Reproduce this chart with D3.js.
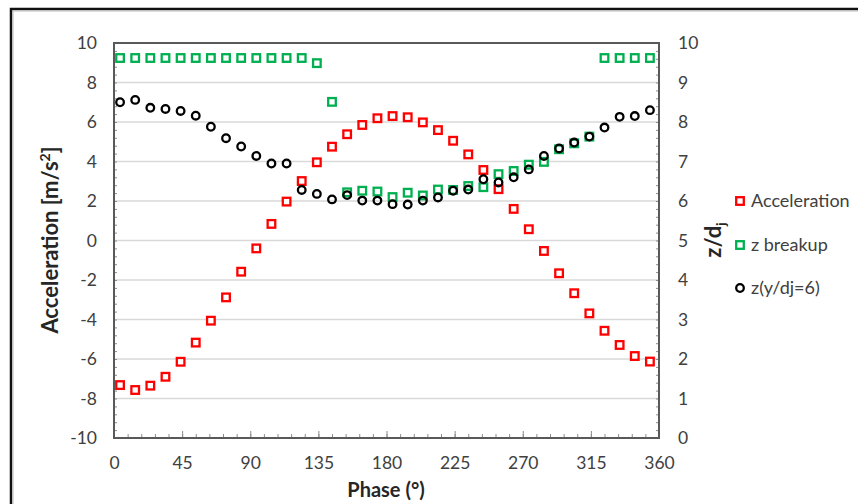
<!DOCTYPE html>
<html><head><meta charset="utf-8">
<script src="https://cdn.jsdelivr.net/npm/d3@7"></script>
<style>body{margin:0;background:#fff}svg{display:block}text{font-family:Lato,"Open Sans",sans-serif}</style>
</head><body>
<svg id="c" width="858" height="504"></svg>
<script>
const phases = d3.range(36).map(i => 4 + 10 * i);
const acceleration = [-7.32, -7.57, -7.35, -6.9, -6.14, -5.17, -4.06, -2.88, -1.58, -0.4, 0.84, 1.97, 3.01, 3.96, 4.75, 5.38, 5.85, 6.19, 6.3, 6.24, 5.98, 5.59, 5.05, 4.36, 3.57, 2.6, 1.6, 0.57, -0.53, -1.66, -2.67, -3.69, -4.57, -5.29, -5.85, -6.13];
const zBreakup = [9.62, 9.62, 9.62, 9.62, 9.62, 9.62, 9.62, 9.62, 9.62, 9.62, 9.62, 9.62, 9.62, 9.49, 8.51, 6.22, 6.26, 6.24, 6.1, 6.21, 6.14, 6.29, 6.28, 6.38, 6.35, 6.68, 6.76, 6.92, 6.99, 7.31, 7.46, 7.63, 9.62, 9.62, 9.62, 9.62];
const zY6 = [8.5, 8.56, 8.36, 8.33, 8.28, 8.16, 7.88, 7.59, 7.38, 7.14, 6.95, 6.95, 6.28, 6.18, 6.04, 6.15, 6.01, 6.01, 5.92, 5.91, 6.01, 6.09, 6.26, 6.29, 6.55, 6.47, 6.6, 6.8, 7.14, 7.33, 7.48, 7.63, 7.86, 8.13, 8.15, 8.3];
const xTicks = [0, 45, 90, 135, 180, 225, 270, 315, 360];
const leftTicks = [-10, -8, -6, -4, -2, 0, 2, 4, 6, 8, 10];
const rightTicks = [0, 1, 2, 3, 4, 5, 6, 7, 8, 9, 10];
const seriesNames = ["Acceleration", "z breakup", "z(y/dj=6)"];

const L = 114, R = 659, T = 43, B = 438;
const svg = d3.select("#c");
const x = d3.scaleLinear([0, 360], [L, R]);
const yL = d3.scaleLinear([-10, 10], [B, T]);
const yR = d3.scaleLinear([0, 10], [B, T]);
const tickCol = "#404040";
const fmt = d => String(d);

// outer frame
svg.append("path").attr("d", `M11,510 V9 H870`).attr("fill", "none").attr("stroke", "#111").attr("stroke-width", 2.5);
svg.append("path").attr("d", `M13,510 V11 H870`).attr("fill", "none").attr("stroke", "#bbb").attr("stroke-width", 1);

// gridlines
svg.append("g").selectAll("line").data(leftTicks.filter(v => v > -10 && v < 10)).join("line")
  .attr("x1", L).attr("x2", R).attr("y1", d => yL(d)).attr("y2", d => yL(d))
  .attr("stroke", "#d9d9d9").attr("stroke-width", 1.5);

// minor ticks
const tickStyle = g => { g.select(".domain").remove(); g.selectAll("line").attr("stroke", "#8c8c8c").attr("stroke-width", 1); };
svg.append("g").attr("transform", `translate(${L},0)`)
  .call(d3.axisRight(yL).tickValues(d3.range(-10, 10.001, 0.4)).tickSize(3).tickFormat("")).call(tickStyle);
svg.append("g").attr("transform", `translate(${R},0)`)
  .call(d3.axisLeft(yR).tickValues(d3.range(0, 10.001, 0.2)).tickSize(3).tickFormat("")).call(tickStyle);
svg.append("g").attr("transform", `translate(0,${B})`)
  .call(d3.axisTop(x).tickValues(d3.range(0, 360.001, 9)).tickSize(4).tickFormat("")).call(tickStyle);
svg.append("g").attr("transform", `translate(0,${B})`)
  .call(d3.axisTop(x).tickValues(xTicks).tickSize(7).tickFormat("")).call(tickStyle);

// plot frame
svg.append("rect").attr("x", L).attr("y", T).attr("width", R - L).attr("height", B - T)
  .attr("fill", "none").attr("stroke", "#595959").attr("stroke-width", 2);

// labels
const lab = g => { g.select(".domain").remove(); g.selectAll("text").attr("fill", tickCol).style("font-size", "17.5px").style("font-family", "Lato, sans-serif"); };
svg.append("g").attr("transform", `translate(${L},0)`)
  .call(d3.axisLeft(yL).tickValues(leftTicks).tickSize(0).tickPadding(17).tickFormat(fmt)).call(lab);
svg.append("g").attr("transform", `translate(${R},0)`)
  .call(d3.axisRight(yR).tickValues(rightTicks).tickSize(0).tickPadding(19).tickFormat(fmt)).call(lab);
svg.append("g").attr("transform", `translate(0,${B})`)
  .call(d3.axisBottom(x).tickValues(xTicks).tickSize(0).tickPadding(19).tickFormat(fmt)).call(lab);

// axis titles
svg.append("text").attr("transform", `translate(58,240) rotate(-90)`).attr("text-anchor", "middle")
  .attr("font-weight", "bold").attr("font-size", 22).attr("fill", "#262626")
  .html('Acceleration [m/s<tspan dy="-8" font-size="14">2</tspan><tspan dy="8">]</tspan>');
svg.append("text").attr("transform", `translate(721,240) rotate(-90)`).attr("text-anchor", "middle")
  .attr("font-weight", "bold").attr("font-size", 22).attr("fill", "#262626")
  .html('z/d<tspan dy="5" font-size="14">j</tspan>');
svg.append("text").attr("x", 386).attr("y", 497).attr("text-anchor", "middle")
  .attr("font-weight", "bold").attr("font-size", 20).attr("fill", "#262626").text("Phase (°)");

// series
const sq = 7.6;
const gR = svg.append("g");
gR.selectAll("rect").data(phases).join("rect")
  .attr("x", (d, i) => x(d) - sq / 2).attr("y", (d, i) => yL(acceleration[i]) - sq / 2)
  .attr("width", sq).attr("height", sq).attr("fill", "#fff").attr("stroke", "#ff0000").attr("stroke-width", 2.3);
const gG = svg.append("g");
gG.selectAll("rect").data(phases).join("rect")
  .attr("x", (d, i) => x(d) - sq / 2).attr("y", (d, i) => yR(zBreakup[i]) - sq / 2)
  .attr("width", sq).attr("height", sq).attr("fill", "#fff").attr("stroke", "#00b050").attr("stroke-width", 2.3);
const gB = svg.append("g");
gB.selectAll("circle").data(phases).join("circle")
  .attr("cx", d => x(d)).attr("cy", (d, i) => yR(zY6[i]))
  .attr("r", 3.8).attr("fill", "none").attr("stroke", "#000").attr("stroke-width", 2.3);

// legend
const legY = [201, 245, 288];
const leg = svg.append("g");
seriesNames.forEach((n, i) => {
  const cy = legY[i];
  if (i < 2) {
    leg.append("rect").attr("x", 740 - sq / 2).attr("y", cy - sq / 2).attr("width", sq).attr("height", sq)
      .attr("fill", "#fff").attr("stroke", i === 0 ? "#ff0000" : "#00b050").attr("stroke-width", 2.3);
  } else {
    leg.append("circle").attr("cx", 740).attr("cy", cy).attr("r", 3.8).attr("fill", "none").attr("stroke", "#000").attr("stroke-width", 2.3);
  }
  leg.append("text").attr("x", 751).attr("y", cy).attr("dy", "0.35em").attr("font-size", 18).attr("fill", tickCol).text(n);
});
</script>
</body></html>
